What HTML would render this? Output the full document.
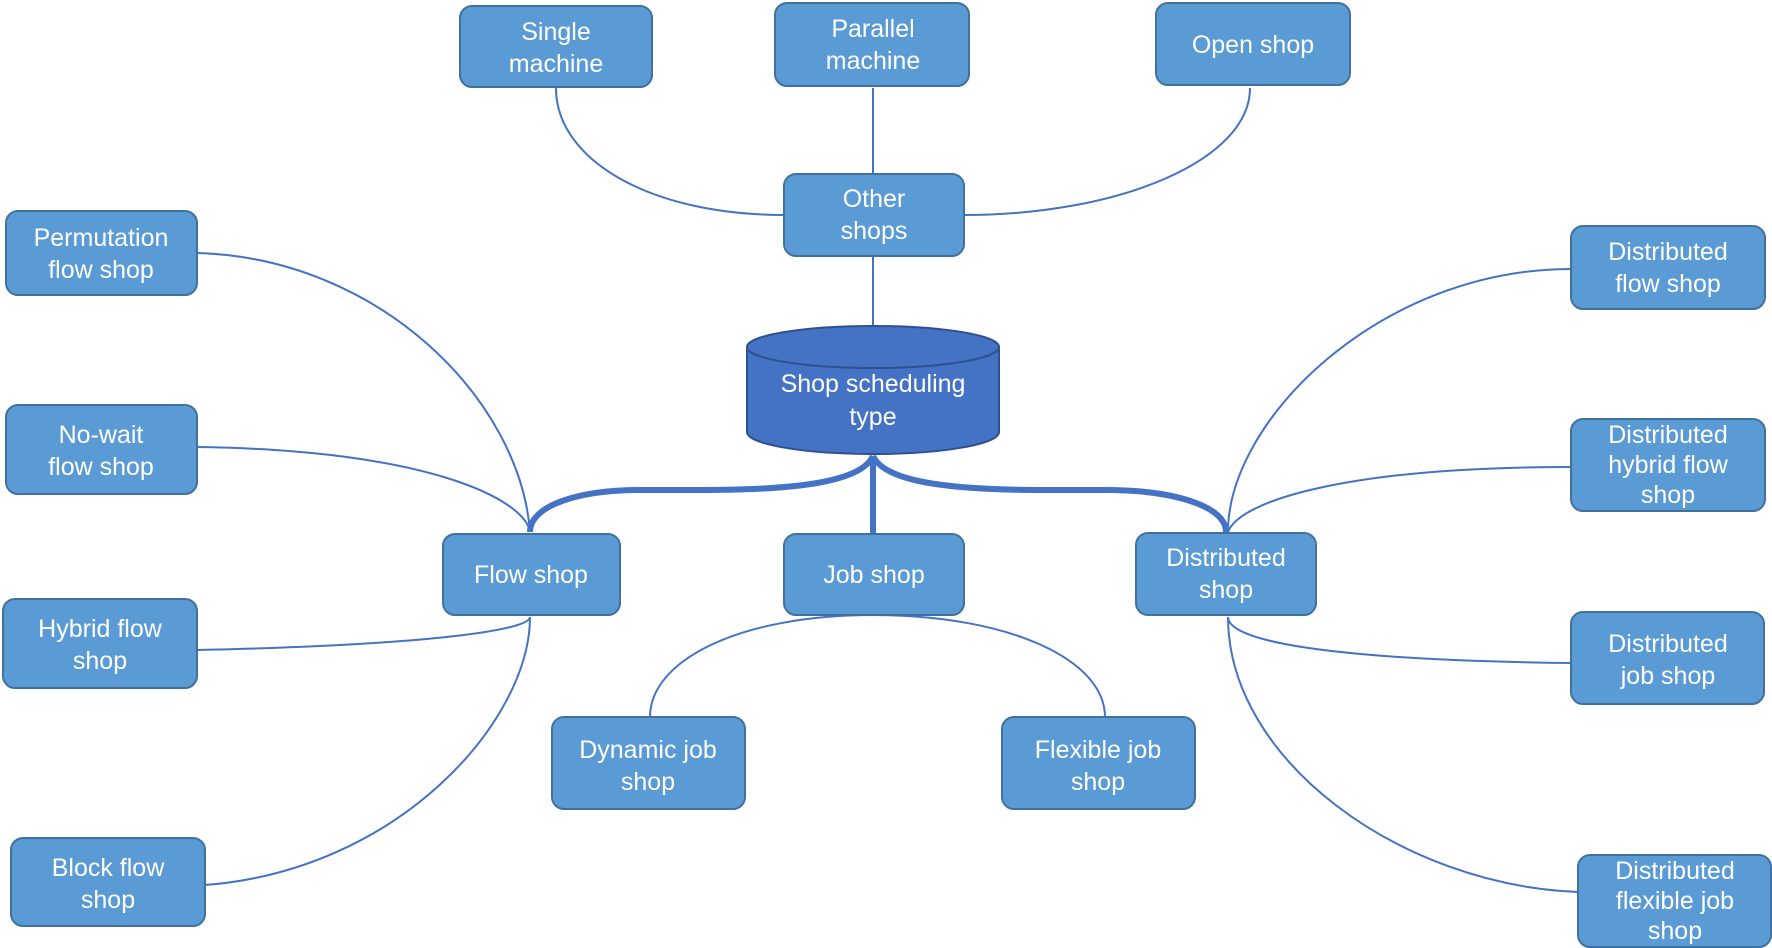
<!DOCTYPE html>
<html><head><meta charset="utf-8"><style>
html,body{margin:0;padding:0;background:#fff;}
svg{display:block;}
text{font-family:"Liberation Sans",sans-serif;font-size:25px;fill:#fff;text-anchor:middle;}
.b{fill:#5B9BD5;stroke:#41719C;stroke-width:2;}
.l{fill:none;stroke:#4472C4;stroke-width:2;}
.t{fill:none;stroke:#4472C4;stroke-width:6;}
</style></head><body>
<svg width="1772" height="948" viewBox="0 0 1772 948">
<!-- connectors -->
<path class="l" d="M556,88 C556,160 650,215 784,215"/>
<path class="l" d="M873,88 L873,174"/>
<path class="l" d="M1250,88 C1250,160 1120,215 964,215"/>
<path class="l" d="M873,256 L873,327"/>
<path class="t" d="M873,456 C860,485 780,490 700,490 L640,490 C580,490 530,505 530,532"/>
<path class="t" d="M873,456 L873,534"/>
<path class="t" d="M873,456 C886,485 966,490 1046,490 L1106,490 C1170,490 1226,505 1226,532"/>
<path class="l" d="M197,253 C380,258 520,400 530,532"/>
<path class="l" d="M197,447 C430,450 525,500 530,532"/>
<path class="l" d="M197,650 C430,645 530,630 530,617"/>
<path class="l" d="M205,885 C400,870 530,720 530,617"/>
<path class="l" d="M873,615 C740,615 650,660 650,717"/>
<path class="l" d="M873,615 C1010,615 1105,660 1105,717"/>
<path class="l" d="M1571,269 C1380,269 1228,420 1228,532"/>
<path class="l" d="M1571,467 C1350,467 1240,500 1228,532"/>
<path class="l" d="M1571,663 C1320,660 1228,640 1228,617"/>
<path class="l" d="M1578,892 C1400,885 1228,760 1228,617"/>
<!-- cylinder -->
<path d="M747,347 L747,432 A126,22 0 0 0 999,432 L999,347" fill="#4472C4" stroke="#2F528F" stroke-width="2"/>
<ellipse cx="873" cy="347" rx="126" ry="21" fill="#4472C4" stroke="#2F528F" stroke-width="2"/>
<text x="873" y="392">Shop scheduling</text>
<text x="873" y="425">type</text>
<!-- boxes -->
<rect class="b" x="460" y="6" width="192" height="81" rx="12"/>
<text x="556" y="40">Single</text><text x="556" y="72">machine</text>
<rect class="b" x="775" y="3" width="194" height="83" rx="12"/>
<text x="873" y="37">Parallel</text><text x="873" y="69">machine</text>
<text x="1039" y="50">…</text>
<rect class="b" x="1156" y="3" width="194" height="82" rx="12"/>
<text x="1253" y="53">Open shop</text>
<rect class="b" x="784" y="174" width="180" height="82" rx="12"/>
<text x="874" y="207">Other</text><text x="874" y="239">shops</text>
<rect class="b" x="443" y="534" width="177" height="81" rx="12"/>
<text x="531" y="583">Flow shop</text>
<rect class="b" x="784" y="534" width="180" height="81" rx="12"/>
<text x="874" y="583">Job shop</text>
<rect class="b" x="1136" y="533" width="180" height="82" rx="12"/>
<text x="1226" y="566">Distributed</text><text x="1226" y="598">shop</text>
<rect class="b" x="6" y="211" width="191" height="84" rx="12"/>
<text x="101" y="246">Permutation</text><text x="101" y="278">flow shop</text>
<rect class="b" x="6" y="405" width="191" height="89" rx="12"/>
<text x="101" y="443">No-wait</text><text x="101" y="475">flow shop</text>
<rect class="b" x="3" y="599" width="194" height="89" rx="12"/>
<text x="100" y="637">Hybrid flow</text><text x="100" y="669">shop</text>
<text x="100" y="777">⋮</text>
<rect class="b" x="11" y="838" width="194" height="88" rx="12"/>
<text x="108" y="876">Block flow</text><text x="108" y="908">shop</text>
<rect class="b" x="552" y="717" width="193" height="92" rx="12"/>
<text x="648" y="758">Dynamic job</text><text x="648" y="790">shop</text>
<text x="877" y="768">…</text>
<rect class="b" x="1002" y="717" width="193" height="92" rx="12"/>
<text x="1098" y="758">Flexible job</text><text x="1098" y="790">shop</text>
<rect class="b" x="1571" y="226" width="194" height="83" rx="12"/>
<text x="1668" y="260">Distributed</text><text x="1668" y="292">flow shop</text>
<rect class="b" x="1571" y="419" width="194" height="92" rx="12"/>
<text x="1668" y="443">Distributed</text><text x="1668" y="473">hybrid flow</text><text x="1668" y="503">shop</text>
<rect class="b" x="1571" y="612" width="193" height="92" rx="12"/>
<text x="1668" y="652">Distributed</text><text x="1668" y="684">job shop</text>
<text x="1667" y="792">⋮</text>
<rect class="b" x="1578" y="855" width="193" height="92" rx="12"/>
<text x="1675" y="879">Distributed</text><text x="1675" y="909">flexible job</text><text x="1675" y="939">shop</text>
</svg>
</body></html>
